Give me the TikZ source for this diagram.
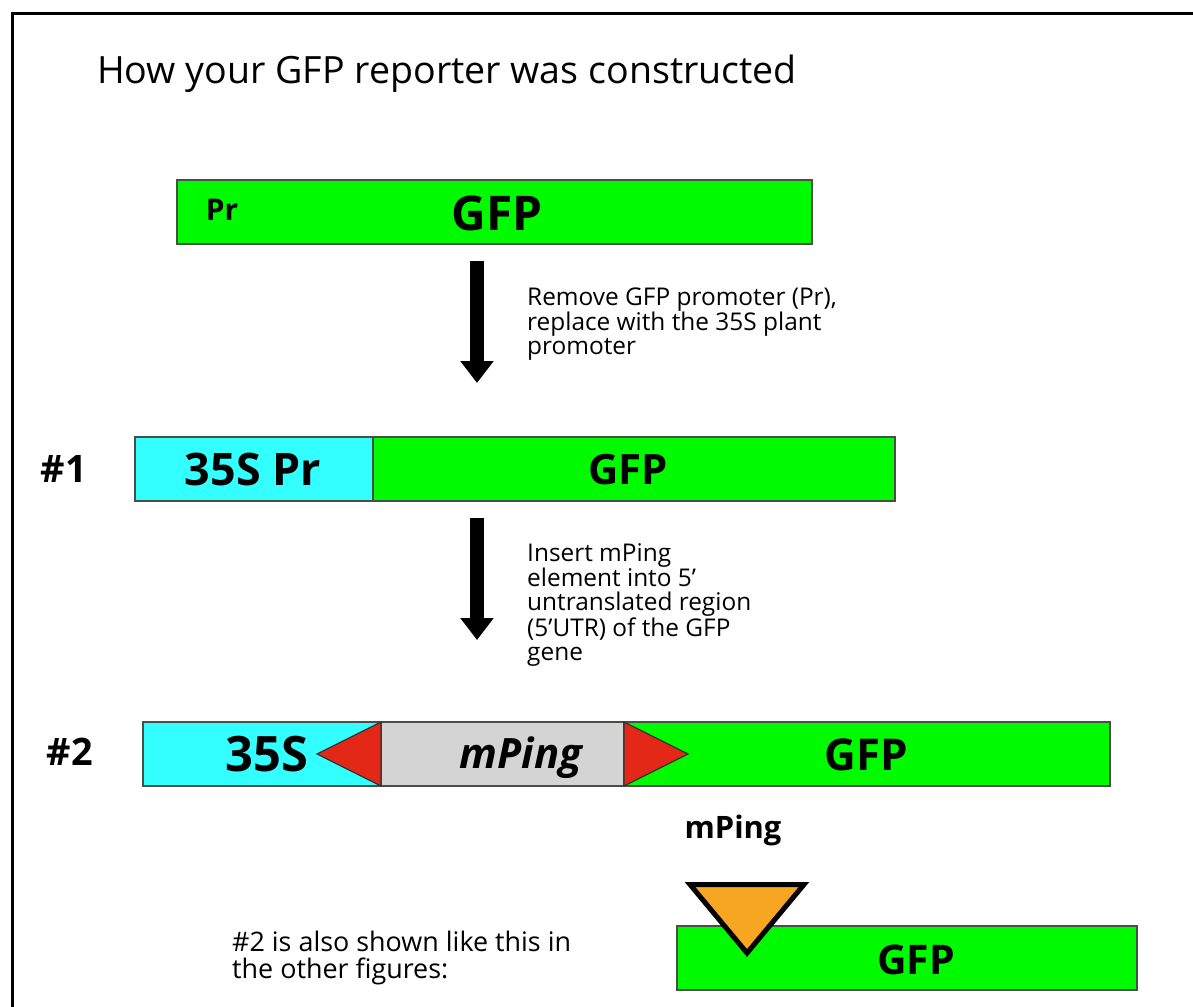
\documentclass[tikz,border=0pt]{standalone}
\usepackage{fontspec}
\setmainfont{Open Sans}
\usetikzlibrary{arrows.meta}
\definecolor{gfpgreen}{RGB}{0,250,0}
\definecolor{promcyan}{RGB}{51,255,255}
\definecolor{mpgray}{RGB}{212,212,212}
\definecolor{tirred}{RGB}{228,40,24}
\definecolor{mporange}{RGB}{247,166,33}
\definecolor{edgegray}{RGB}{70,80,70}
\newcommand{\fsz}[1]{\fontsize{#1}{#1}\selectfont}
\tikzset{
  seg/.style={draw=edgegray, line width=1.2bp, inner sep=0pt, outer sep=0pt, anchor=north west},
  lbl/.style={inner sep=0pt},
  body/.style={align=left, anchor=north west, inner sep=0pt},
  blockarrow/.style={line width=14bp, -{Triangle[width=32bp,length=22bp]}},
}
\begin{document}
\begin{tikzpicture}[x=1bp,y=-1bp]
\useasboundingbox[fill=white] (0,0) rectangle (1193,1007);
% frame (open to the right and bottom)
\draw[line width=3bp] (12.5,1020) -- (12.5,13.5) -- (1210,13.5);

% title
\node[font=\fsz{37.7}, anchor=base west, inner sep=0pt] (title) at (97,83) {How your GFP reporter was constructed};

% construct 0
\node[seg, fill=gfpgreen, minimum width=635bp, minimum height=64bp] (c0) at (177,180) {};
\node[lbl, font=\bfseries\fsz{30}] (c0pr) at (222,210) {Pr};
\node[lbl, font=\bfseries\fsz{48}] (c0gfp) at (497,213) {GFP};

% arrow 1
\coordinate (a1s) at (477,261);
\coordinate (a1e) at (477,383);
\draw[blockarrow] (a1s) -- (a1e);
\node[body, font=\fontsize{24.5}{24.5}\selectfont] (t1) at (527,288) {Remove GFP promoter (Pr),\\replace with the 35S plant\\promoter};

% construct 1
\node[lbl, font=\bfseries\fsz{38}] (n1) at (64,469) {\#1};
\node[seg, fill=promcyan, minimum width=238bp, minimum height=64bp] (c1p) at (135,437) {};
\node[seg, fill=gfpgreen, minimum width=522bp, minimum height=64bp] (c1g) at (373,437) {};
\node[lbl, font=\bfseries\fsz{45}] (c1pl) at (253,469) {35S Pr};
\node[lbl, font=\bfseries\fsz{42}] (c1gl) at (628,470) {GFP};

% arrow 2
\coordinate (a2s) at (477,518);
\coordinate (a2e) at (477,640);
\draw[blockarrow] (a2s) -- (a2e);
\node[body, font=\fontsize{24.5}{24.2}\selectfont] (t2) at (527,543) {Insert mPing\\element into 5'\\untranslated region\\(5'UTR) of the GFP\\gene};

% construct 2
\node[lbl, font=\bfseries\fsz{38}] (n2) at (70,752) {\#2};
\node[seg, fill=promcyan, minimum width=238bp, minimum height=64bp] (c2p) at (143,722) {};
\node[seg, fill=mpgray, minimum width=243bp, minimum height=64bp] (c2m) at (381,722) {};
\node[seg, fill=gfpgreen, minimum width=486bp, minimum height=64bp] (c2g) at (624,722) {};
\draw[draw=black!80, line width=1.2bp, fill=tirred] (c2m.north west) -- (317,754) -- (c2m.south west) -- cycle;
\draw[draw=black!80, line width=1.2bp, fill=tirred] (c2m.north east) -- (688,754) -- (c2m.south east) -- cycle;
\node[lbl, font=\bfseries\fsz{49}] (c2pl) at (267,754) {35S};
\node[lbl, font=\bfseries\itshape\fsz{42}] (c2ml) at (521,758) {mPing};
\node[lbl, font=\bfseries\fsz{44}] (c2gl) at (866,755) {GFP};

% simplified drawing
\node[body, font=\fontsize{27}{27}\selectfont] (t3) at (232,931) {\#2 is also shown like this in\\the other figures:};
\node[seg, fill=gfpgreen, minimum width=460bp, minimum height=64bp] (c3) at (677,926) {};
\node[lbl, font=\bfseries\fsz{41}] (c3gl) at (916,960) {GFP};
\draw[line width=5bp, line join=miter, fill=mporange] (690,884.5) -- (804,884.5) -- (747,953) -- cycle;
\node[lbl, font=\bfseries\fsz{31}] (mpl) at (733,830) {mPing};
\end{tikzpicture}
\end{document}
